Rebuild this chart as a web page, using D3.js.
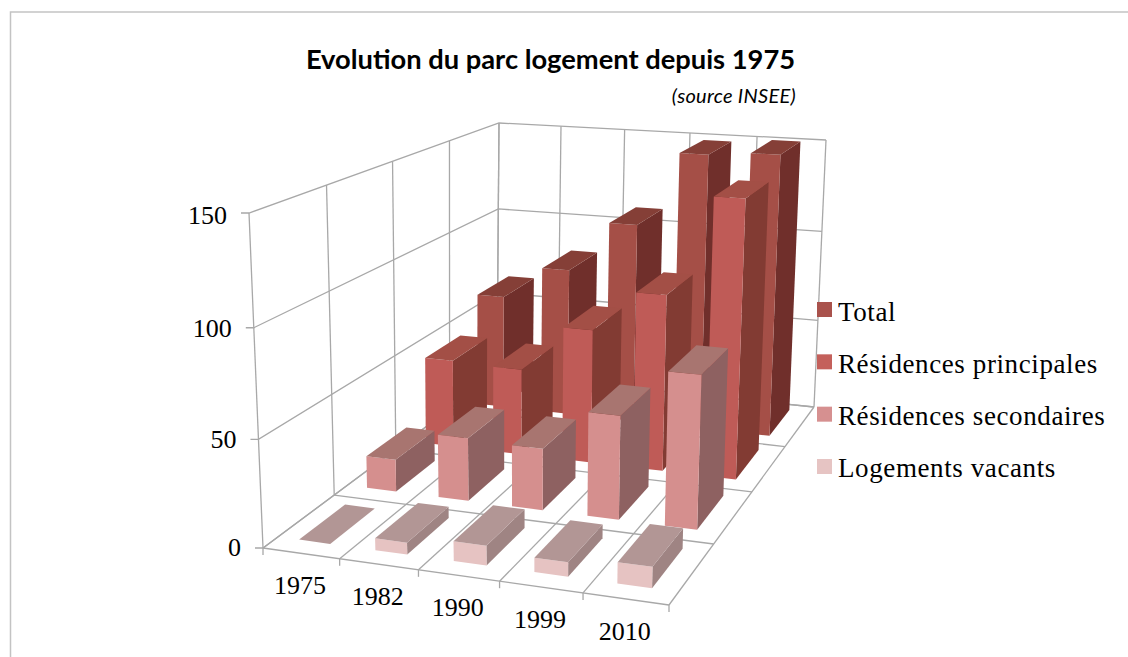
<!DOCTYPE html>
<html><head><meta charset="utf-8">
<script src="https://cdnjs.cloudflare.com/ajax/libs/d3/7.8.5/d3.min.js"></script>
<style>html,body{margin:0;padding:0;background:#fff}svg{display:block}</style>
</head><body><svg id="c" width="1128" height="657"></svg>
<script>
const categories = ["1975","1982","1990","1999","2010"];
const seriesNames = ["Total","Résidences principales","Résidences secondaires","Logements vacants"];
const total = [63,81,108.5,148,150];
const principales = [46,45,69,90,140];
const secondaires = [16,31,30,50,73];
const vacants = [0,5.5,9,6.5,9.5];
const valueTicks = [0,50,100,150];
const seriesValues = [total,principales,secondaires,vacants];

const palette = [
 {front:"#a54f47",top:"#853f37",side:"#702f2b",key:"#a9524c"},
 {front:"#bf5b57",top:"#a34f46",side:"#823b33",key:"#c4605b"},
 {front:"#d58f8e",top:"#a87570",side:"#8e6161",key:"#d69090"},
 {front:"#e6c3c2",top:"#b29695",side:"#9f8483",key:"#e6c4c3"}
];

function homography(q){
  const [[x0,y0],[x1,y1],[x2,y2],[x3,y3]]=q;
  const dx1=x1-x2,dx2=x3-x2,sx=x0-x1+x2-x3,dy1=y1-y2,dy2=y3-y2,sy=y0-y1+y2-y3;
  const det=dx1*dy2-dx2*dy1,g=(sx*dy2-dx2*sy)/det,h=(dx1*sy-sx*dy1)/det;
  const a=x1-x0+g*x1,b=x3-x0+h*x3,d=y1-y0+g*y1,e=y3-y0+h*y3;
  return (u,v)=>{const w=g*u+h*v+1;return [(a*u+b*v+x0)/w,(d*u+e*v+y0)/w];};
}
const floorH=homography([[263,548],[669,605],[814,407],[497,374]]);
const roofH=homography([[249,213],[677,245],[826,140],[499,123]]);
const k=0.96;
function project(u,v,w){
  const B=floorH(u,v),T=roofH(u,v),t=w*k/(1+w*(k-1));
  return [B[0]+(T[0]-B[0])*t,B[1]+(T[1]-B[1])*t];
}
const uGrid=d3.scaleLinear().domain([0,categories.length]).range([0,1]);
const vGrid=d3.scaleLinear().domain([0,seriesNames.length]).range([0,1]);
const wScale=d3.scaleLinear().domain([0,150]).range([0,1]);
const uBand=d3.scaleBand().domain(categories).range([0,1]).paddingInner(0.59).paddingOuter(0.295).align(0.475);
const vBand=d3.scaleBand().domain(seriesNames.slice().reverse()).range([0,1]).paddingInner(0.34).paddingOuter(0.17).align(0.59);

const svg=d3.select("#c");
const line=d3.line();
const poly=pts=>line(pts)+"Z";
// chart frame: left and top edges only, the top runs off the right edge
svg.append("path").attr("d","M10.5,657V12H1128").attr("fill","none").attr("stroke","#c3c3c3").attr("stroke-width",1.5);

const grid=svg.append("g").attr("fill","none").attr("stroke","#a8a8a8").attr("stroke-width",1.3);
function seg(a,b){grid.append("path").attr("d",line([a,b]));}
valueTicks.forEach(t=>{
  const w=wScale(t),a=project(0,0,w),b=project(0,1,w),c=project(1,1,w);
  grid.append("path").attr("d",line([[a[0]-8,a[1]],a,b,c]));
});
d3.range(seriesNames.length+1).forEach(i=>{
  const v=vGrid(i);
  seg(project(0,v,0),project(1,v,0));
  seg(project(0,v,0),project(0,v,1));
});
d3.range(categories.length+1).forEach(i=>{
  const u=uGrid(i);
  const f=project(u,0,0);
  seg([f[0],f[1]+7],f);
  seg(f,project(u,1,0));
  seg(project(u,1,0),project(u,1,1));
});

// bars: back to front, left to right
const barsG=svg.append("g");
seriesNames.forEach((name,si)=>{
  const c=palette[si],g=barsG.append("g");
  categories.forEach((cat,ci)=>{
    const val=seriesValues[si][ci],w=wScale(val);
    const u0=uBand(cat),u1=u0+uBand.bandwidth(),v0=vBand(name),v1=v0+vBand.bandwidth();
    const A=project(u0,v0,0),B=project(u1,v0,0),C=project(u1,v1,0);
    const At=project(u0,v0,w),Bt=project(u1,v0,w),Ct=project(u1,v1,w),Dt=project(u0,v1,w);
    if(val>0){
      g.append("path").attr("d",poly([B,C,Ct,Bt])).attr("fill",c.side);
      g.append("path").attr("d",poly([A,B,Bt,At])).attr("fill",c.front);
    }
    g.append("path").attr("d",poly([At,Bt,Ct,Dt])).attr("fill",c.top);
  });
});

const serif="'Liberation Serif','DejaVu Serif',serif";
const labelDrop=d3.scaleLinear().domain([0,150]).range([7.5,10.5]);
valueTicks.forEach(t=>{
  const p=project(0,0,wScale(t));
  svg.append("text").attr("x",p[0]-22).attr("y",p[1]+labelDrop(t)).attr("text-anchor","end")
    .attr("font-family",serif).attr("font-size",26).attr("fill","#000").text(t);
});
categories.forEach((cat,i)=>{
  const p=project(uGrid(i+0.5),0,0);
  svg.append("text").attr("x",p[0]-1).attr("y",p[1]+41).attr("text-anchor","middle")
    .attr("font-family",serif).attr("font-size",26).attr("fill","#000").text(cat);
});

// title
svg.append("text").attr("x",550.5).attr("y",69).attr("text-anchor","middle")
  .attr("font-family","Lato,'Open Sans',sans-serif").attr("font-weight",700).attr("font-size",27.3).attr("fill","#000")
  .text("Evolution du parc logement depuis 1975");
svg.append("text").attr("x",796).attr("y",103).attr("text-anchor","end")
  .attr("font-family","Lato,'Open Sans',sans-serif").attr("font-style","italic").attr("font-size",20).attr("letter-spacing",0.3).attr("fill","#000")
  .text("(source INSEE)");

// legend
const legendY=d3.scalePoint().domain(seriesNames).range([302,459]);
const legendBase=d3.scalePoint().domain(seriesNames).range([321,477]);
seriesNames.forEach((name,i)=>{
  svg.append("rect").attr("x",817).attr("y",legendY(name)).attr("width",15).attr("height",15).attr("fill",palette[i].key);
  svg.append("text").attr("x",838).attr("y",legendBase(name)).attr("font-family",serif).attr("font-size",27).attr("letter-spacing",0.6).attr("fill","#000").text(name);
});
</script></body></html>
